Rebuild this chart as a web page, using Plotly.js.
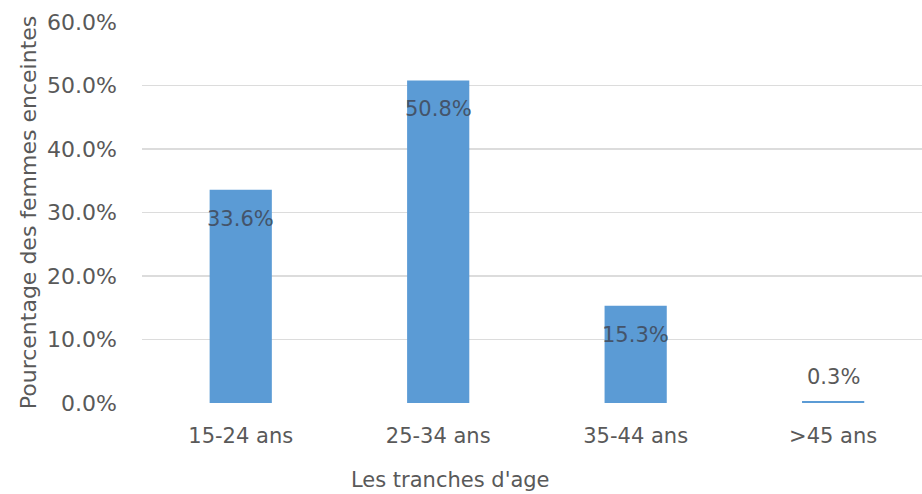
<!DOCTYPE html>
<html>
<head>
<meta charset="utf-8">
<script src="https://cdn.plot.ly/plotly-3.0.1.min.js"></script>
<style>html,body{margin:0;padding:0;background:#fff;}#chart{width:922px;height:494px;}</style>
</head>
<body>
<div id="chart"></div>
<script>
const categories = ["15-24 ans", "25-34 ans", "35-44 ans", ">45 ans"];
const values = [33.6, 50.8, 15.3, 0.3];
const labels = ["33.6%", "50.8%", "15.3%", "0.3%"];
const yTickVals = [0, 10, 20, 30, 40, 50, 60];
const yTickText = ["0.0%", "10.0%", "20.0%", "30.0%", "40.0%", "50.0%", "60.0%"];
const yTitle = "Pourcentage des femmes enceintes";
const xTitle = "Les tranches d'age";

const FONT = "DejaVu Sans, Verdana, sans-serif";
const GRAY = "#595959";

const trace = {
  type: "bar",
  x: categories,
  y: values,
  marker: {color: "#5b9bd5"},
  hoverinfo: "none"
};

const annotations = categories.map((c, i) => ({
  x: c, y: values[i], xref: "x", yref: "y",
  text: labels[i], showarrow: false,
  yshift: values[i] > 5 ? -29 : 24,
  font: {family: FONT, size: 21, color: values[i] > 5 ? "#44546a" : GRAY}
}));
annotations.push({
  x: 0.395, y: 0, xref: "paper", yref: "paper", yanchor: "top",
  yshift: -63, text: xTitle, showarrow: false,
  font: {family: FONT, size: 21, color: GRAY}
});

const layout = {
  width: 922, height: 494,
  margin: {l: 142, r: 0, t: 22, b: 91},
  paper_bgcolor: "#fff", plot_bgcolor: "#fff",
  bargap: 0.685,
  showlegend: false,
  font: {family: FONT, size: 21, color: GRAY},
  xaxis: {
    type: "category",
    range: [-0.5, 3.45],
    showgrid: false, zeroline: false, showline: false,
    ticks: "", ticklabelstandoff: 18,
    tickfont: {family: FONT, size: 21, color: GRAY}
  },
  yaxis: {
    range: [0, 60],
    tickvals: yTickVals, ticktext: yTickText,
    showgrid: true, gridcolor: "#dcdcdc", gridwidth: 1.5,
    zeroline: false, showline: false,
    ticks: "", ticklabelstandoff: 24,
    tickfont: {family: FONT, size: 22, color: GRAY},
    title: {text: yTitle, standoff: 4, font: {family: FONT, size: 22, color: GRAY}}
  },
  annotations: annotations
};

Plotly.newPlot("chart", [trace], layout, {staticPlot: true, displayModeBar: false});
</script>
</body>
</html>
